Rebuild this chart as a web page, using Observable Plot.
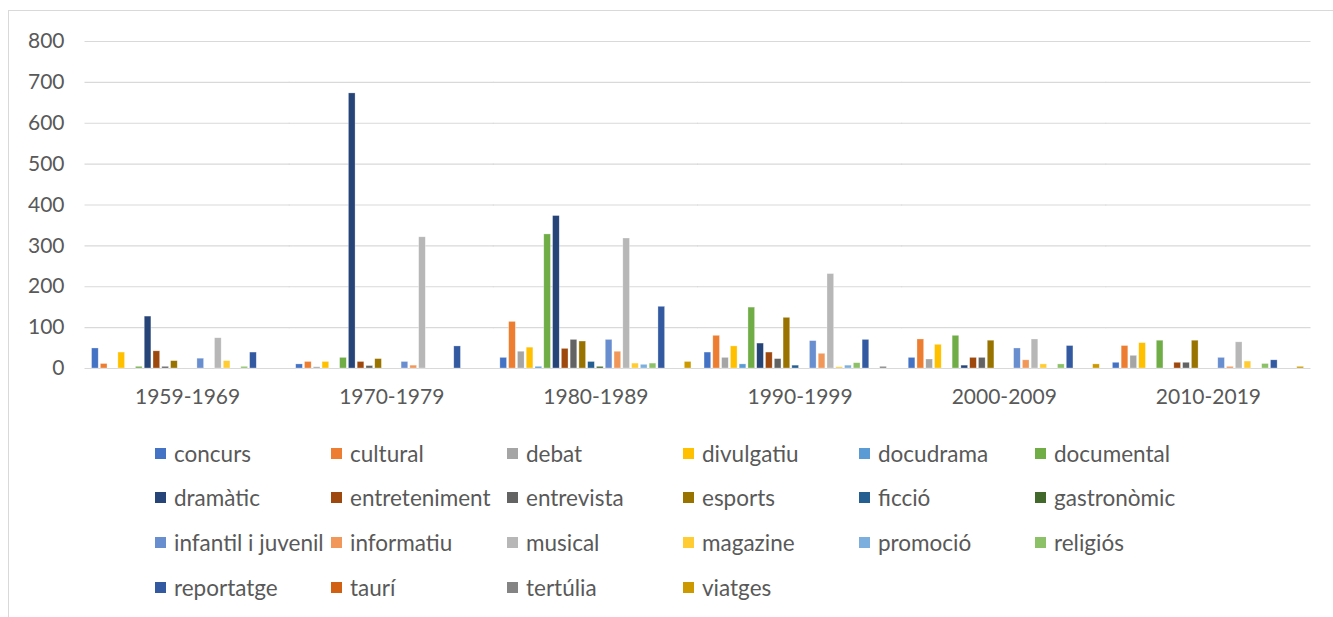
<!DOCTYPE html>
<html>
<head>
<meta charset="utf-8">
<script src="https://cdn.jsdelivr.net/npm/d3@7"></script>
<script src="https://cdn.jsdelivr.net/npm/@observablehq/plot@0.6"></script>
<style>
  html, body { margin: 0; padding: 0; background: #fff; }
  #wrap { position: relative; width: 1333px; height: 617px; overflow: hidden; font-family: Lato, "Open Sans", sans-serif; }
  #frame { position: absolute; left: 8px; top: 10px; width: 1340px; height: 640px; border-left: 1px solid #d9d9d9; border-top: 1px solid #d9d9d9; box-sizing: border-box; }
  #chart { position: absolute; left: 0; top: 0; }
  .item { position: absolute; display: flex; align-items: center; font-size: 22.5px; color: #595959; white-space: nowrap; height: 26px; }
  .sw { width: 11px; height: 11px; margin-right: 8px; flex: none; }
</style>
</head>
<body>
<div id="wrap">
  <div id="frame"></div>
  <div id="chart"></div>
  <div id="legend"></div>
</div>
<script>
const periods = ["1959-1969", "1970-1979", "1980-1989", "1990-1999", "2000-2009", "2010-2019"];
const series = ["concurs", "cultural", "debat", "divulgatiu", "docudrama", "documental",
  "dramàtic", "entreteniment", "entrevista", "esports", "ficció", "gastronòmic",
  "infantil i juvenil", "informatiu", "musical", "magazine", "promoció", "religiós",
  "reportatge", "taurí", "tertúlia", "viatges"];
const colors = ["#4472C4", "#ED7D31", "#A5A5A5", "#FFC000", "#5B9BD5", "#70AD47",
  "#264478", "#9E480E", "#636363", "#997300", "#255E91", "#43682B",
  "#698ED0", "#F1975A", "#B7B7B7", "#FFCD33", "#7CAFDD", "#8CC168",
  "#335AA1", "#D26012", "#848484", "#CC9A00"];
// values per period, in the order of `series`
const v1959_1969 = [49, 11, 0, 39, 0, 4, 127, 42, 4, 18, 0, 0, 24, 0, 74, 18, 0, 4, 39, 0, 0, 0];
const v1970_1979 = [10, 16, 3, 16, 0, 26, 673, 16, 6, 23, 0, 0, 16, 7, 321, 0, 0, 0, 54, 0, 0, 0];
const v1980_1989 = [26, 114, 41, 51, 4, 328, 373, 48, 70, 66, 16, 4, 70, 41, 318, 12, 9, 12, 151, 0, 0, 16];
const v1990_1999 = [39, 80, 26, 54, 10, 149, 61, 39, 23, 124, 7, 0, 67, 36, 231, 3, 7, 13, 70, 0, 4, 0];
const v2000_2009 = [26, 71, 22, 58, 0, 80, 7, 26, 26, 68, 0, 0, 49, 20, 71, 10, 0, 10, 55, 0, 0, 10];
const v2010_2019 = [14, 55, 31, 62, 0, 68, 0, 14, 14, 68, 0, 0, 26, 4, 64, 17, 0, 11, 20, 0, 0, 4];
const yTicks = [0, 100, 200, 300, 400, 500, 600, 700, 800];

const valuesByPeriod = [v1959_1969, v1970_1979, v1980_1989, v1990_1999, v2000_2009, v2010_2019];
const data = [];
periods.forEach((p, i) => series.forEach((s, j) => data.push({period: p, series: s, value: valuesByPeriod[i][j]})));

const chart = Plot.plot({
  width: 1333,
  height: 420,
  marginTop: 41,
  marginBottom: 52,
  marginLeft: 85,
  marginRight: 23,
  style: {fontFamily: "Lato, 'Open Sans', sans-serif", fontSize: "21px", color: "#595959", background: "transparent"},
  facet: {data, x: "period"},
  fx: {domain: periods, paddingInner: 0, paddingOuter: 0, round: false, label: null, tickSize: 0, tickPadding: 21},
  x: {domain: series, paddingInner: 0.24, paddingOuter: 0.745, round: false, axis: null},
  y: {domain: [0, 800], ticks: yTicks, label: null, tickSize: 0, tickPadding: 21},
  color: {domain: series, range: colors},
  marks: [
    Plot.ruleY(yTicks, {stroke: "#d9d9d9", strokeWidth: 1.2, insetLeft: -0.5, insetRight: -0.5}),
    Plot.barY(data, {x: "series", y: "value", fill: "series", stroke: "white", strokeOpacity: 0.5, strokeWidth: 0.6})
  ]
});
document.getElementById("chart").appendChild(chart);

// legend
const colLefts = [155, 331, 507, 683, 859, 1035];
const rowCenters = [453, 497, 542, 587];
const legend = document.getElementById("legend");
series.forEach((s, i) => {
  const r = Math.floor(i / 6), c = i % 6;
  const el = document.createElement("div");
  el.className = "item";
  el.style.left = colLefts[c] + "px";
  el.style.top = (rowCenters[r] - 13) + "px";
  const sw = document.createElement("span");
  sw.className = "sw";
  sw.style.background = colors[i];
  el.appendChild(sw);
  el.appendChild(document.createTextNode(s));
  legend.appendChild(el);
});
</script>
</body>
</html>
